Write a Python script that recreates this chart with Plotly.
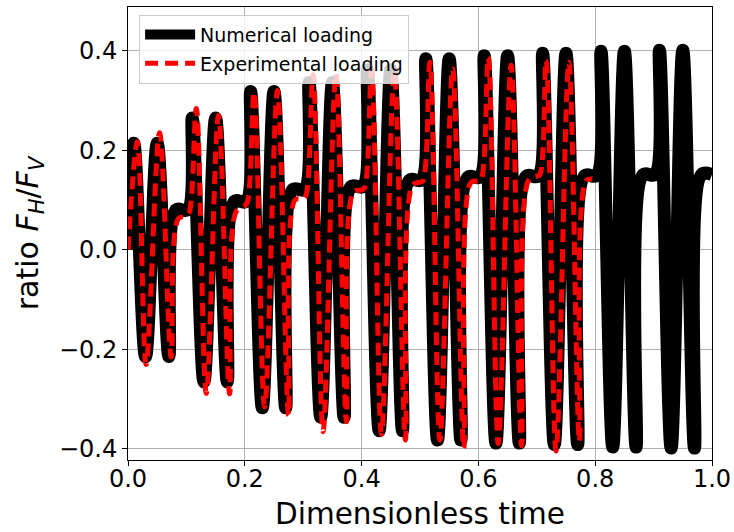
import plotly.graph_objects as go

# ---------------- data ----------------
# numerical loading: ten loading blocks, each two cycles followed by a hold
cycle_start = [0.0, 0.1, 0.2, 0.3, 0.4, 0.5, 0.6, 0.7, 0.8, 0.9]
num_peak = [0.214, 0.265, 0.318, 0.336, 0.362, 0.384, 0.390, 0.395, 0.399, 0.401]
num_trough = [-0.215, -0.266, -0.318, -0.337, -0.364, -0.383, -0.389, -0.392, -0.397, -0.399]
num_hold = [0.080, 0.097, 0.121, 0.127, 0.140, 0.146, 0.148, 0.149, 0.151, 0.151]
# time (inside a block) of: hold end, peak, trough, peak, trough, hold start
block_offsets = [0.002, 0.010, 0.030, 0.050, 0.070, 0.082]

# experimental loading (turning points)
exp_time = [
    0.000, 0.016, 0.031, 0.054, 0.074, 0.086, 0.100,
    0.105, 0.117, 0.134, 0.155, 0.174, 0.185, 0.200,
    0.205, 0.216, 0.234, 0.256, 0.275, 0.286, 0.300,
    0.305, 0.317, 0.334, 0.356, 0.374, 0.386, 0.400,
    0.405, 0.417, 0.434, 0.456, 0.475, 0.487, 0.500,
    0.505, 0.517, 0.534, 0.556, 0.575, 0.587, 0.600,
    0.605, 0.617, 0.634, 0.656, 0.674, 0.686, 0.700,
    0.705, 0.716, 0.733, 0.755, 0.773, 0.784, 0.795,
]
exp_ratio = [
    0.000, 0.217, -0.231, 0.235, -0.216, 0.062, 0.068,
    0.075, 0.284, -0.289, 0.270, -0.290, 0.076, 0.088,
    0.098, 0.317, -0.316, 0.320, -0.333, 0.100, 0.102,
    0.110, 0.352, -0.366, 0.354, -0.346, 0.116, 0.120,
    0.124, 0.360, -0.371, 0.358, -0.383, 0.130, 0.136,
    0.138, 0.377, -0.383, 0.364, -0.399, 0.135, 0.138,
    0.142, 0.387, -0.390, 0.371, -0.394, 0.140, 0.148,
    0.150, 0.381, -0.405, 0.377, -0.385, 0.138, 0.142,
]

x_ticks = [0.0, 0.2, 0.4, 0.6, 0.8, 1.0]
y_ticks = [-0.4, -0.2, 0.0, 0.2, 0.4]

# ---------------- assemble numerical curve from read values ----------------
num_t, num_y = [], []
prev_hold = 0.0
for k, t0 in enumerate(cycle_start):
    vals = [prev_hold, num_peak[k], num_trough[k], num_peak[k], num_trough[k], num_hold[k]]
    for j, (off, v) in enumerate(zip(block_offsets, vals)):
        t = t0 + off
        if k == 0 and j == 0:
            t = 0.0
        num_t.append(t)
        num_y.append(v)
    prev_hold = num_hold[k]
num_t.append(1.0)
num_y.append(num_hold[-1])

FONT = "DejaVu Sans"

fig = go.Figure()
fig.add_trace(go.Scatter(
    x=num_t, y=num_y, mode="lines", name="Numerical loading",
    line=dict(color="black", width=13, shape="spline", smoothing=1.0),
    legendgroup="a", hoverinfo="skip",
))
fig.add_trace(go.Scatter(
    x=exp_time, y=exp_ratio, mode="lines", name="Experimental loading",
    line=dict(color="red", width=5, dash="13px,7px", shape="spline", smoothing=1.0),
    legendgroup="b", hoverinfo="skip",
))

axis_common = dict(
    showgrid=True, gridcolor="#b0b0b0", gridwidth=1,
    showline=True, linecolor="black", linewidth=1, mirror=True,
    ticks="outside", ticklen=5, tickwidth=1, tickcolor="black",
    tickfont=dict(family=FONT, size=24, color="black"),
    zeroline=False, tickformat=".1f", automargin=False,
)

fig.update_layout(
    width=734, height=532,
    margin=dict(l=128, r=22, t=7, b=72),
    paper_bgcolor="white", plot_bgcolor="white",
    font=dict(family=FONT, color="black"),
    xaxis=dict(range=[0, 1], tickvals=x_ticks, ticklabelstandoff=-8,
               title=dict(text="Dimensionless time", font=dict(family=FONT, size=29.5), standoff=11),
               **axis_common),
    yaxis=dict(range=[-0.423, 0.488], tickvals=y_ticks,
               title=dict(text="ratio <i>F</i><sub><i>H</i></sub>/<i>F</i><sub><i>V</i></sub>",
                          font=dict(family=FONT, size=30), standoff=11),
               **axis_common),
    legend=dict(x=0.019, y=0.983, xanchor="left", yanchor="top",
                bgcolor="rgba(255,255,255,0.8)", bordercolor="#cccccc", borderwidth=1,
                font=dict(family=FONT, size=19, color="black"),
                tracegroupgap=1, itemwidth=50),
    showlegend=True,
)

fig.write_html("out.html", config={"displayModeBar": False},
               post_script="document.body.style.margin='0px';")
